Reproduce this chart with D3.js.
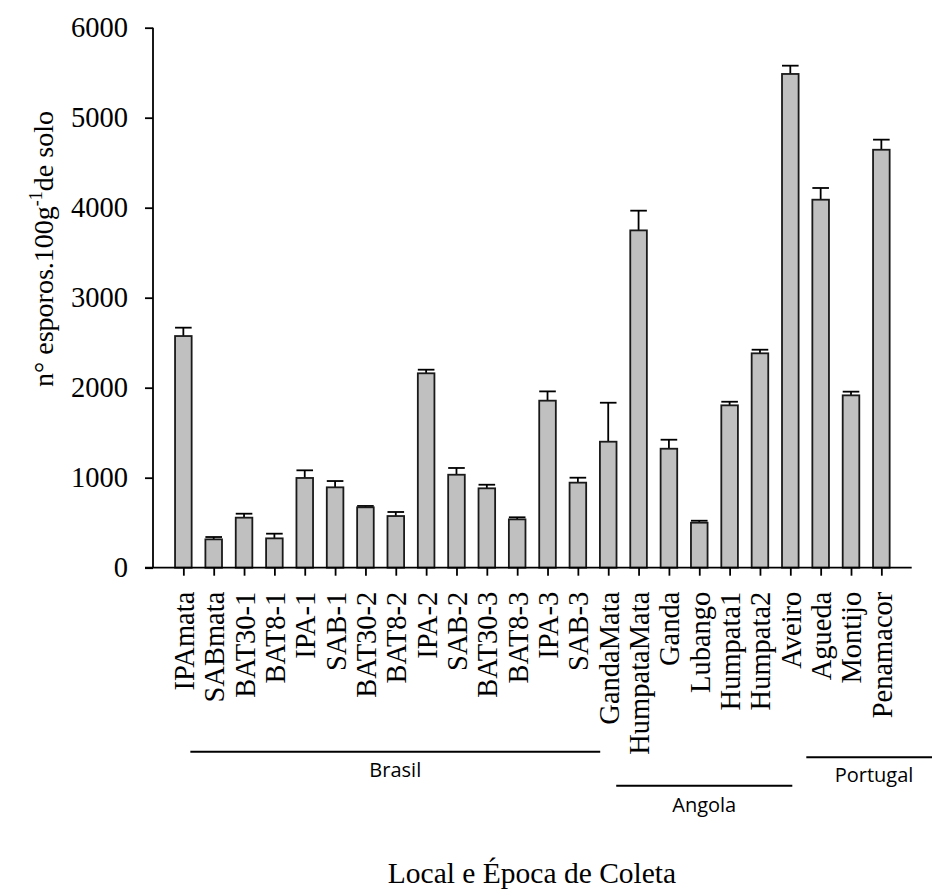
<!DOCTYPE html>
<html>
<head>
<meta charset="utf-8">
<script src="https://cdn.jsdelivr.net/npm/d3@7"></script>
<style>
  html, body { margin: 0; padding: 0; background: #fff; }
  svg { display: block; }
</style>
</head>
<body>
<svg id="chart" width="932" height="889"></svg>
<script>
const categories = ["IPAmata","SABmata","BAT30-1","BAT8-1","IPA-1","SAB-1","BAT30-2","BAT8-2","IPA-2","SAB-2","BAT30-3","BAT8-3","IPA-3","SAB-3","GandaMata","HumpataMata","Ganda","Lubango","Humpata1","Humpata2","Aveiro","Agueda","Montijo","Penamacor"];
const means = [2574, 315, 556, 326, 997, 893, 671, 574, 2160, 1033, 882, 537, 1856, 945, 1400, 3748, 1322, 500, 1804, 2382, 5486, 4089, 1915, 4644];
const errors = [93, 26, 44, 52, 85, 70, 15, 45, 40, 75, 40, 23, 103, 55, 433, 219, 100, 22, 40, 40, 92, 130, 41, 112];
const yTicks = [0, 1000, 2000, 3000, 4000, 5000, 6000];
const groupNames = ["Brasil", "Angola", "Portugal"];
const groupStart = ["IPAmata", "GandaMata", "Aveiro"];
const groupEnd = ["GandaMata", "Aveiro", null];
const yTitle = "n° esporos.100g";
const yTitleSup = "-1";
const yTitleEnd = "de solo";
const xTitle = "Local e Época de Coleta";

(function () {
const svg = d3.select("#chart");
const serif = "'Liberation Serif', 'Times New Roman', serif";
const sans = "'Open Sans', 'Liberation Sans', sans-serif";

const mLeft = 153, mRight = 911.7, mTop = 27.7, mBottom = 567.7;
const x = d3.scalePoint().domain(categories).range([mLeft, mRight]).padding(1);
const y = d3.scaleLinear().domain([0, 6000]).range([mBottom, mTop]);

const barW = 16.6;
const data = categories.map((c, i) => ({c, m: means[i], e: errors[i]}));

// error bars (upper only)
const eb = svg.append("g").attr("stroke", "#000").attr("stroke-width", 1.8);
data.forEach(d => {
  eb.append("line").attr("x1", x(d.c)).attr("x2", x(d.c)).attr("y1", y(d.m)).attr("y2", y(d.m + d.e));
  eb.append("line").attr("x1", x(d.c) - 8.3).attr("x2", x(d.c) + 8.3).attr("y1", y(d.m + d.e)).attr("y2", y(d.m + d.e));
});

svg.append("g").selectAll("rect").data(data).join("rect")
  .attr("x", d => x(d.c) - barW / 2)
  .attr("y", d => y(d.m))
  .attr("width", barW)
  .attr("height", d => y(0) - y(d.m))
  .attr("fill", "#c0c0c0")
  .attr("stroke", "#1a1a1a")
  .attr("stroke-width", 1.8);

// y axis
const yAxis = svg.append("g").attr("transform", `translate(${mLeft},0)`)
  .call(d3.axisLeft(y).tickValues(yTicks).tickSize(8).tickPadding(17).tickFormat(d3.format("d")));
yAxis.select(".domain").attr("d", `M0,${mTop}V${mBottom}`).attr("stroke-width", 1.8);
yAxis.selectAll(".tick line").attr("stroke-width", 1.8);
yAxis.selectAll("text").attr("font-family", serif).attr("font-size", 28.5).attr("fill", "#000");

// x axis
const xAxis = svg.append("g").attr("transform", `translate(0,${mBottom})`)
  .call(d3.axisBottom(x).tickSize(8).tickPadding(0));
xAxis.select(".domain").attr("d", `M${mLeft - 8},0H${mRight}`).attr("stroke-width", 1.8);
xAxis.selectAll(".tick line").attr("stroke-width", 1.8);
xAxis.selectAll("text")
  .attr("font-family", serif).attr("font-size", 28.5).attr("fill", "#000")
  .attr("text-anchor", "end")
  .attr("transform", "rotate(-90)")
  .attr("x", -24).attr("y", 0).attr("dy", "0.35em");

// y title
const yt = svg.append("text")
  .attr("transform", "translate(53,249) rotate(-90)")
  .attr("text-anchor", "middle")
  .attr("font-family", serif).attr("font-size", 28).attr("fill", "#000");
yt.append("tspan").text(yTitle);
yt.append("tspan").attr("font-size", 18).attr("dy", -11).text(yTitleSup);
yt.append("tspan").attr("dy", 11).text(yTitleEnd);

// group lines & labels
const lineY = [751.7, 785.7, 757.3];
const labelY = [777, 812, 781.7];
const startOff = [7, 8, 16];
const endOff = [-8, 2, 0];
groupNames.forEach((g, i) => {
  const x1 = x(groupStart[i]) + startOff[i];
  const x2 = groupEnd[i] ? x(groupEnd[i]) + endOff[i] : 932;
  svg.append("line").attr("x1", x1).attr("x2", x2).attr("y1", lineY[i]).attr("y2", lineY[i])
    .attr("stroke", "#000").attr("stroke-width", 2);
  const cx = i === 2 ? 874 : (x1 + x2) / 2;
  svg.append("text").attr("x", cx).attr("y", labelY[i]).attr("text-anchor", "middle")
    .attr("font-family", sans).attr("font-size", 20).attr("fill", "#000").text(g);
});

// x title
svg.append("text").attr("x", 532).attr("y", 883).attr("text-anchor", "middle")
  .attr("font-family", serif).attr("font-size", 29.5).attr("fill", "#000").text(xTitle);
})();
</script>
</body>
</html>
